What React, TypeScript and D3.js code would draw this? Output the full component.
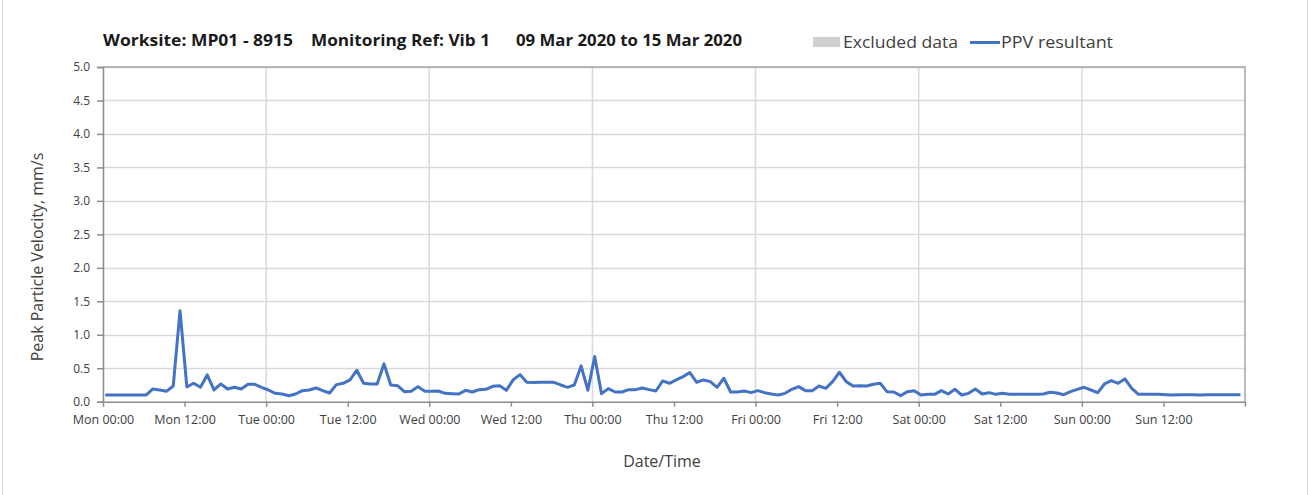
import React, { useEffect, useRef } from "react";
import * as d3 from "d3";

// hourly PPV resultant readings (mm/s), one array per day, first reading ~00:20
const monValues = [0.1, 0.1, 0.1, 0.1, 0.1, 0.1, 0.1, 0.19, 0.175, 0.155, 0.235, 1.36, 0.22, 0.275, 0.215, 0.4, 0.175, 0.265, 0.19, 0.215, 0.19, 0.26, 0.26, 0.215];
const tueValues = [0.175, 0.125, 0.115, 0.09, 0.115, 0.165, 0.175, 0.205, 0.165, 0.13, 0.255, 0.275, 0.325, 0.47, 0.275, 0.265, 0.265, 0.565, 0.25, 0.24, 0.15, 0.155, 0.225, 0.155];
const wedValues = [0.155, 0.16, 0.125, 0.12, 0.115, 0.17, 0.145, 0.18, 0.185, 0.23, 0.24, 0.17, 0.325, 0.405, 0.29, 0.285, 0.29, 0.29, 0.29, 0.25, 0.215, 0.25, 0.535, 0.17];
const thuValues = [0.675, 0.12, 0.195, 0.145, 0.145, 0.18, 0.18, 0.205, 0.18, 0.16, 0.31, 0.275, 0.325, 0.375, 0.435, 0.29, 0.325, 0.3, 0.215, 0.35, 0.145, 0.145, 0.16, 0.135];
const friValues = [0.165, 0.135, 0.115, 0.1, 0.125, 0.185, 0.225, 0.165, 0.165, 0.235, 0.2, 0.3, 0.44, 0.3, 0.235, 0.24, 0.235, 0.26, 0.275, 0.15, 0.145, 0.09, 0.15, 0.165];
const satValues = [0.1, 0.11, 0.11, 0.165, 0.115, 0.185, 0.1, 0.125, 0.19, 0.115, 0.135, 0.11, 0.125, 0.11, 0.11, 0.11, 0.11, 0.11, 0.115, 0.14, 0.13, 0.105, 0.15, 0.185];
const sunValues = [0.215, 0.175, 0.135, 0.265, 0.315, 0.275, 0.34, 0.2, 0.11, 0.11, 0.11, 0.11, 0.105, 0.1, 0.105, 0.105, 0.105, 0.1, 0.105, 0.105, 0.105, 0.105, 0.105, 0.105];

const yTicks = [0, 0.5, 1, 1.5, 2, 2.5, 3, 3.5, 4, 4.5, 5];
const dayNames = ["Mon", "Tue", "Wed", "Thu", "Fri", "Sat", "Sun"];

const startTime = new Date(2020, 2, 9, 0, 0);
const endTime = new Date(2020, 2, 16, 0, 0);
const firstReading = new Date(2020, 2, 9, 0, 20);

const titleParts = ["Worksite: MP01 - 8915", "Monitoring Ref: Vib 1", "09 Mar 2020 to 15 Mar 2020"];

const FONT = "'Open Sans', 'DejaVu Sans', sans-serif";

const App: React.FC = () => {
  const ref = useRef<SVGSVGElement | null>(null);

  useEffect(() => {
    const svg = d3.select(ref.current);
    svg.selectAll("*").remove();

    const W = 1309;
    const H = 495;
    const margin = { top: 67, right: 64, bottom: 93, left: 103 };
    const width = W - margin.left - margin.right;
    const height = H - margin.top - margin.bottom - 0.3;

    const values = [...monValues, ...tueValues, ...wedValues, ...thuValues, ...friValues, ...satValues, ...sunValues];
    const data = values.map((v, i) => ({
      t: d3.timeHour.offset(firstReading, i),
      v,
    }));

    const x = d3.scaleTime().domain([startTime, endTime]).range([0, width]);
    const y = d3.scaleLinear().domain([0, 5]).range([height, 0]);

    // outer frame
    svg
      .append("rect")
      .attr("x", 2.5)
      .attr("y", -2)
      .attr("width", W - 4)
      .attr("height", H + 4)
      .attr("fill", "white")
      .attr("stroke", "#d9d9d9");

    const g = svg.append("g").attr("transform", `translate(${margin.left},${margin.top})`);

    const halfDays = d3.timeHour.every(12)!.range(startTime, endTime);
    const days = d3.timeDay.range(startTime, endTime);

    // grid
    g.append("g")
      .selectAll("line")
      .data(yTicks.slice(1))
      .join("line")
      .attr("x1", 0)
      .attr("x2", width)
      .attr("y1", (d) => Math.round(y(d)) + 0.5)
      .attr("y2", (d) => Math.round(y(d)) + 0.5)
      .attr("stroke", "#d9d9d9")
      .attr("stroke-width", 1.5);

    g.append("g")
      .selectAll("line")
      .data(days.slice(1))
      .join("line")
      .attr("x1", (d) => x(d))
      .attr("x2", (d) => x(d))
      .attr("y1", 0)
      .attr("y2", height)
      .attr("stroke", "#d9d9d9")
      .attr("stroke-width", 1.5);

    // plot border top/right
    g.append("path")
      .attr("d", `M0,0H${width}V${height}`)
      .attr("fill", "none")
      .attr("stroke", "#a6a6a6")
      .attr("stroke-width", 1.5);

    // Y axis
    const yAxis = g
      .append("g")
      .call(d3.axisLeft(y).tickValues(yTicks).tickFormat(d3.format(".1f")).tickSize(6).tickPadding(7));
    yAxis.select(".domain").attr("stroke", "#8c8c8c").attr("stroke-width", 1.5);
    yAxis.selectAll(".tick line").attr("stroke", "#8c8c8c").attr("stroke-width", 1.5);
    yAxis
      .selectAll("text")
      .style("font-family", FONT)
      .style("font-size", "12px")
      .attr("fill", "#404040");

    // X axis
    const xAxis = g
      .append("g")
      .attr("transform", `translate(0,${height})`)
      .call(
        d3
          .axisBottom(x)
          .tickValues([...halfDays, endTime])
          .tickFormat((d) => {
            const dt = d as Date;
            if (dt.getTime() === endTime.getTime()) return "";
            return `${dayNames[(dt.getDay() + 6) % 7]} ${d3.timeFormat("%H:%M")(dt)}`;
          })
          .tickSize(5)
          .tickSizeOuter(0)
          .tickPadding(8)
      );
    xAxis.select(".domain").attr("stroke", "#8c8c8c").attr("stroke-width", 1.5);
    xAxis.selectAll(".tick line").attr("stroke", "#8c8c8c").attr("stroke-width", 1.5);
    xAxis
      .selectAll("text")
      .style("font-family", FONT)
      .style("font-size", "12.5px")
      .attr("fill", "#404040");

    // line
    const line = d3
      .line<{ t: Date; v: number }>()
      .x((d) => x(d.t))
      .y((d) => y(d.v));

    g.append("path")
      .datum(data)
      .attr("d", line)
      .attr("fill", "none")
      .attr("stroke", "#4472c4")
      .attr("stroke-width", 3)
      .attr("stroke-linejoin", "round");

    // title
    const titleX = [103, 311, 516];
    const titleW = [190, 179, 226];
    titleParts.forEach((t, i) => {
      svg
        .append("text")
        .attr("x", titleX[i])
        .attr("y", 46)
        .attr("textLength", titleW[i])
        .attr("lengthAdjust", "spacingAndGlyphs")
        .style("font-family", FONT)
        .style("font-size", "15.5px")
        .style("font-weight", "bold")
        .attr("fill", "#1a1a1a")
        .text(t);
    });

    // legend
    svg.append("rect").attr("x", 813).attr("y", 37).attr("width", 27).attr("height", 10).attr("fill", "#d0d0d0");
    svg
      .append("text")
      .attr("x", 843)
      .attr("y", 48)
      .attr("textLength", 115)
      .attr("lengthAdjust", "spacingAndGlyphs")
      .style("font-family", FONT)
      .style("font-size", "16.5px")
      .attr("fill", "#404040")
      .text("Excluded data");
    svg
      .append("line")
      .attr("x1", 970)
      .attr("x2", 1000)
      .attr("y1", 42.5)
      .attr("y2", 42.5)
      .attr("stroke", "#4472c4")
      .attr("stroke-width", 3);
    svg
      .append("text")
      .attr("x", 1001)
      .attr("y", 48)
      .attr("textLength", 112)
      .attr("lengthAdjust", "spacingAndGlyphs")
      .style("font-family", FONT)
      .style("font-size", "16.5px")
      .attr("fill", "#404040")
      .text("PPV resultant");

    // axis titles
    svg
      .append("text")
      .attr("transform", `translate(43,257) rotate(-90)`)
      .attr("text-anchor", "middle")
      .style("font-family", FONT)
      .style("font-size", "16px")
      .attr("fill", "#404040")
      .text("Peak Particle Velocity, mm/s");

    svg
      .append("text")
      .attr("x", 662)
      .attr("y", 467)
      .attr("text-anchor", "middle")
      .style("font-family", FONT)
      .style("font-size", "16px")
      .attr("fill", "#404040")
      .text("Date/Time");
  }, []);

  return (
    <svg
      ref={ref}
      width={1309}
      height={495}
      style={{ position: "absolute", left: 0, top: 0, background: "white" }}
    />
  );
};

export default App;
